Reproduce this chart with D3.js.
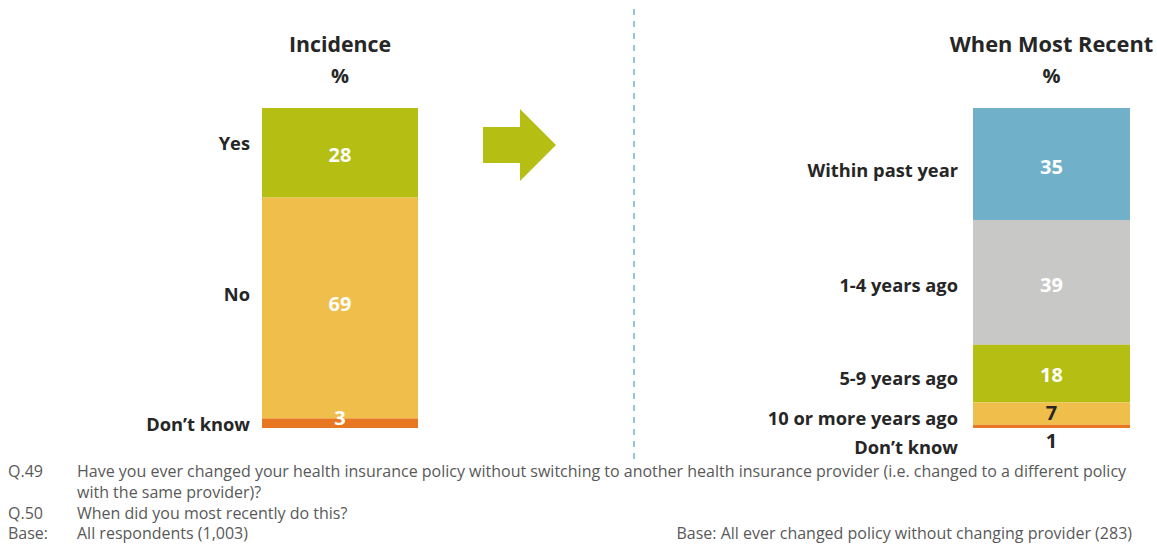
<!DOCTYPE html>
<html><head><meta charset="utf-8">
<script src="https://cdn.jsdelivr.net/npm/d3@7"></script>
<style>body{margin:0;background:#fff}svg{display:block}</style>
</head><body><svg id="c" width="1157" height="544"></svg>
<script>
const leftCategories = ["Yes", "No", "Don\u2019t know"];
const leftValues = [28, 69, 3];
const leftColors = ["#B5BE12", "#F0BE4A", "#E87722"];
const rightCategories = ["Within past year", "1-4 years ago", "5-9 years ago", "10 or more years ago", "Don\u2019t know"];
const rightValues = [35, 39, 18, 7, 1];
const rightColors = ["#70B1C9", "#C8C8C6", "#B5BE12", "#F0BE4A", "#E87722"];
const titles = ["Incidence", "When Most Recent"];
const footLeft = [
  ["Q.49", "Have you ever  changed your health insurance policy without switching to another health insurance provider (i.e. changed to a different  policy"],
  ["", "with the same provider)?"],
  ["Q.50", "When did you most recently do this?"],
  ["Base:", "All respondents (1,003)"]
];
const footRight = "Base: All ever changed policy without changing provider (283)";

const svg = d3.select("#c");
const font = "'Open Sans', sans-serif";
const y = d3.scaleLinear().domain([0, 100]).range([108, 428]);

function stack(vals){ let c=0; return vals.map(v=>{const s={y0:c,y1:c+v,v}; c+=v; return s;}); }

function drawBar(cats, vals, colors, x0, x1, opts){
  const g = svg.append("g");
  const segs = stack(vals);
  g.selectAll("rect").data(segs).join("rect")
    .attr("x", x0).attr("width", x1-x0)
    .attr("y", d=>y(d.y0)).attr("height", d=>y(d.y1)-y(d.y0))
    .attr("fill", (d,i)=>colors[i]);
  const xc=(x0+x1)/2;
  g.selectAll("text.v").data(segs).join("text").attr("class","v")
    .attr("x", xc).attr("y", (d,i)=>(y(d.y0)+y(d.y1))/2 + opts.valOff[i])
    .attr("text-anchor","middle").attr("dominant-baseline","central")
    .attr("font-family",font).attr("font-weight",700).attr("font-size",20)
    .attr("fill",(d,i)=>opts.valDark[i]?"#262626":"#fff")
    .text(d=>d.v);
  g.selectAll("text.c").data(segs).join("text").attr("class","c")
    .attr("x", opts.labelX).attr("y", (d,i)=>(y(d.y0)+y(d.y1))/2 + opts.catOff[i])
    .attr("text-anchor","end").attr("dominant-baseline","central")
    .attr("font-family",font).attr("font-weight",700).attr("font-size",18.3)
    .attr("fill","#262626")
    .text((d,i)=>cats[i]);
  g.append("text").attr("x",xc+opts.titleDx).attr("y",43).attr("text-anchor","middle").attr("dominant-baseline","central")
    .attr("font-family",font).attr("font-weight",700).attr("font-size",opts.titleSize).attr("fill","#262626").text(opts.title);
  g.append("text").attr("x",xc+opts.titleDx).attr("y",75).attr("text-anchor","middle").attr("dominant-baseline","central")
    .attr("font-family",font).attr("font-weight",700).attr("font-size",20).attr("fill","#262626").text("%");
}

drawBar(leftCategories, leftValues, leftColors, 262, 418, {
  valOff:[2,-5,-6], valDark:[0,0,0], catOff:[-10,-15,0], labelX:250, title:titles[0], titleDx:0, titleSize:21.3
});
drawBar(rightCategories, rightValues, rightColors, 973, 1130, {
  valOff:[2,2,1,-1,14], valDark:[0,0,0,1,1], catOff:[5,2,4,4,20], labelX:958, title:titles[1], titleDx:0, titleSize:21.8
});

// arrow
svg.append("path")
  .attr("d","M483,127 L520,127 L520,109 L556,145 L520,181 L520,163 L483,163 Z")
  .attr("fill","#B5BE12");
// dashed divider
svg.append("line").attr("x1",634).attr("x2",634).attr("y1",9).attr("y2",462)
  .attr("stroke","#6FB3CF").attr("stroke-width",1.5).attr("stroke-dasharray","6,6");

// footnotes
const fy=[477,498,519,539];
const fs=16;
footLeft.forEach((r,i)=>{
  svg.append("text").attr("x",8).attr("y",fy[i]).attr("font-family",font).attr("font-size",fs).attr("fill","#595959").text(r[0]);
  svg.append("text").attr("x",77).attr("y",fy[i]).attr("font-family",font).attr("font-size",fs).attr("fill","#595959").text(r[1]);
});
svg.append("text").attr("x",1132).attr("y",539).attr("text-anchor","end").attr("font-family",font).attr("font-size",fs).attr("fill","#595959").text(footRight);
</script></body></html>
